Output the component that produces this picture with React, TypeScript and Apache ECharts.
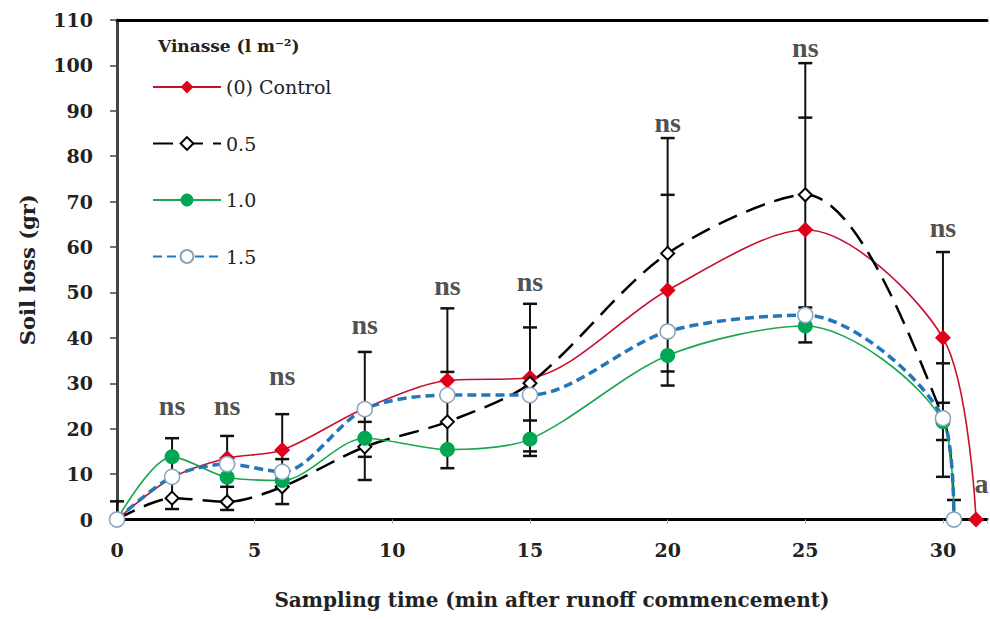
import React, { useEffect, useRef } from "react";
import * as echarts from "echarts";

// ---- data ----
const seriesNames = ["(0) Control", "0.5", "1.0", "1.5"];
const tControl = [0, 2, 4, 6, 9, 12, 15, 20, 25, 30, 31.2];
const vControl = [0, 9.2, 13.5, 15.3, 24.5, 30.6, 31.2, 50.5, 63.8, 40, 0];
const tHalf = [0, 2, 4, 6, 9, 12, 15, 20, 25, 30, 30.4];
const vHalf = [0, 4.7, 3.9, 7.2, 16, 21.5, 30, 58.6, 71.5, 22.5, 0];
const tOne = [0, 2, 4, 6, 9, 12, 15, 20, 25, 30, 30.4];
const vOne = [0, 13.8, 9.3, 8.6, 17.9, 15.4, 17.7, 36.1, 42.6, 21.5, 0];
const tOneHalf = [0, 2, 4, 6, 9, 12, 15, 20, 25, 30, 30.4];
const vOneHalf = [0, 9.4, 12.2, 10.5, 24.3, 27.4, 27.4, 41.4, 45, 22.3, 0];

// error bars
const errT = [0, 2, 4, 6, 9, 12, 15, 20, 25, 30, 30.4];
const errLow = [0, 2.3, 2.1, 3.4, 8.7, 11.3, 14, 29.5, 39, 9.4, 0];
const errHigh = [4, 17.9, 18.4, 23.2, 36.9, 46.5, 47.5, 84, 100.5, 58.9, 4.3];
const errMid = [[], [], [7.2], [13.3], [21.5, 13.8], [32.5], [42.3, 21.8, 15], [71.5, 32.6], [88.5, 46.7], [34.4, 25.7, 17.5], []];

// significance annotations
const annoT = [2, 4, 6, 9, 12, 15, 20, 25, 30, 31.4];
const annoV = [25.1, 25.1, 31.8, 43, 51.5, 52.4, 87.4, 104, 64.3, 8];
const annoText = ["ns", "ns", "ns", "ns", "ns", "ns", "ns", "ns", "ns", "a"];

const yTicks = { min: 0, max: 110, interval: 10 };
const xTicks = { min: 0, max: 31.6, interval: 5 };

const legendTitle = "Vinasse (l m⁻²)";
const xName = "Sampling time (min after runoff commencement)";
const yName = "Soil loss (gr)";

const pair = (ts: number[], vs: number[]) => ts.map((t, i) => [t, vs[i]]);

export default function App() {
  const ref = useRef<HTMLDivElement>(null);
  useEffect(() => {
    if (!ref.current) return;
    const chart = echarts.init(ref.current, null, { renderer: "svg" });
    const tickFont = { fontFamily: "DejaVu Serif", fontWeight: "bold", fontSize: 19, color: "#222" };
    const smooth = 0.3;
    const option: any = {
      animation: false,
      backgroundColor: "#fff",
      grid: { left: 117, right: 0, top: 20, bottom: 99.5, containLabel: false },
      xAxis: [
        {
          type: "value",
          min: xTicks.min,
          max: xTicks.max,
          interval: xTicks.interval,
          axisLine: { show: true, lineStyle: { color: "#000", width: 3 } },
          axisTick: { show: true, length: 4, lineStyle: { color: "#aaa" } },
          splitLine: { show: false },
          axisLabel: {
            ...tickFont,
            margin: 21,
            formatter: (v: number) => (v % 5 === 0 ? String(v) : ""),
          },
          name: xName,
          nameLocation: "middle",
          nameGap: 70,
          nameTextStyle: { fontFamily: "DejaVu Serif", fontWeight: "bold", fontSize: 20, color: "#222" },
        },
        {
          type: "value",
          position: "top",
          min: xTicks.min,
          max: xTicks.max,
          axisLine: { show: true, lineStyle: { color: "#000", width: 3 } },
          axisTick: { show: false },
          axisLabel: { show: false },
          splitLine: { show: false },
        },
      ],
      yAxis: {
        type: "value",
        min: yTicks.min,
        max: yTicks.max,
        interval: yTicks.interval,
        axisLine: { show: true, lineStyle: { color: "#444", width: 3 } },
        axisTick: { show: true, inside: false, length: 7, lineStyle: { color: "#444", width: 1.5 } },
        splitLine: { show: false },
        axisLabel: { ...tickFont, margin: 24 },
        name: yName,
        nameLocation: "middle",
        nameGap: 79,
        nameTextStyle: { fontFamily: "DejaVu Serif", fontWeight: "bold", fontSize: 21, color: "#222" },
      },
      legend: {
        orient: "vertical",
        left: 147,
        top: 72,
        itemWidth: 68,
        itemHeight: 16,
        itemGap: 36.5,
        data: seriesNames,
        textStyle: { fontFamily: "DejaVu Serif", fontSize: 19, color: "#222", lineHeight: 20 },
      },
      graphic: [
        {
          type: "text",
          left: 158,
          top: 37,
          style: { text: legendTitle, fontFamily: "DejaVu Serif", fontWeight: "bold", fontSize: 17, fill: "#222" },
        },
      ],
      series: [
        {
          type: "custom",
          name: "err",
          z: 1,
          data: errT.map((t, i) => [t, errLow[i], errHigh[i]]),
          encode: { x: 0, y: [1, 2] },
          renderItem: (params: any, api: any) => {
            const i = params.dataIndex;
            const x = api.coord([errT[i], 0])[0];
            const yLow = api.coord([errT[i], errLow[i]])[1];
            const yHigh = api.coord([errT[i], errHigh[i]])[1];
            const capVals = [errHigh[i], ...errMid[i]];
            if (errLow[i] > 0) capVals.push(errLow[i]);
            const children: any[] = [
              { type: "line", shape: { x1: x, y1: yLow, x2: x, y2: yHigh }, style: { stroke: "#111", lineWidth: 2 } },
            ];
            capVals.forEach((v) => {
              const y = api.coord([errT[i], v])[1];
              children.push({ type: "line", shape: { x1: x - 7, y1: y, x2: x + 7, y2: y }, style: { stroke: "#111", lineWidth: 2.5 } });
            });
            return { type: "group", children };
          },
        },
        {
          type: "line",
          name: seriesNames[0],
          z: 3,
          smooth,
          data: pair(tControl, vControl),
          symbol: "diamond",
          symbolSize: 16,
          itemStyle: { color: "#e0001a" },
          lineStyle: { color: "#c8102e", width: 1.6 },
        },
        {
          type: "line",
          name: seriesNames[1],
          z: 3,
          smooth,
          data: pair(tHalf, vHalf),
          symbol: "diamond",
          symbolSize: 13,
          itemStyle: { color: "#fff", borderColor: "#000", borderWidth: 2 },
          lineStyle: { color: "#000", width: 2.5, type: [20, 10] },
        },
        {
          type: "line",
          name: seriesNames[2],
          z: 3,
          smooth,
          data: pair(tOne, vOne),
          symbol: "circle",
          symbolSize: 15,
          itemStyle: { color: "#00a651" },
          lineStyle: { color: "#1aa64f", width: 1.6 },
        },
        {
          type: "line",
          name: seriesNames[3],
          z: 3,
          smooth,
          data: pair(tOneHalf, vOneHalf),
          symbol: "circle",
          symbolSize: 15,
          itemStyle: { color: "#fff", borderColor: "#8aa4bd", borderWidth: 1.5 },
          lineStyle: { color: "#2277bb", width: 3.5, type: [9, 5] },
        },
        {
          type: "scatter",
          name: "anno",
          z: 4,
          symbolSize: 0,
          data: annoT.map((t, i) => ({ value: [t, annoV[i]], label: { formatter: annoText[i] } })),
          label: {
            show: true,
            position: "inside",
            fontFamily: "Liberation Serif",
            fontWeight: "bold",
            fontSize: 28,
            color: "#222",
          },
        },
      ],
    };
    chart.setOption(option);
    return () => chart.dispose();
  }, []);
  return (
    <div
      ref={ref}
      style={{ position: "fixed", left: 0, top: 0, width: 990, height: 619, background: "#fff" }}
    />
  );
}
